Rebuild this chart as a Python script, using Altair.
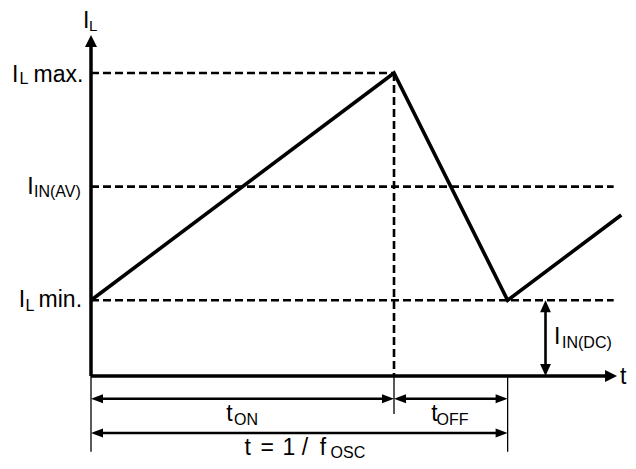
import altair as alt
import pandas as pd

# ---- values (arbitrary units: time t, inductor current I) ----
wave_t = [0, 8, 11, 14]
wave_i = [2, 8, 2, 4.25]

I_MIN, I_AVG, I_MAX = 2, 5, 8
T_ON, T_PERIOD = 8, 11
T_AXIS_END, I_AXIS_END = 13.89, 9
T_DASH_END = 13.8
T_DC = 12
LEVEL_ON = -0.6
LEVEL_PERIOD = -1.505
TICK_SHORT, TICK_LONG = -1.0, -2.0

level_values = [I_MAX, I_AVG, I_MIN]
level_main = ["I", "I", "I"]
level_sub = ["L", "IN(AV)", "L"]
level_tail = ["max.", "", "min."]
axis_y_label = ("I", "L")
axis_x_label = "t"
dc_label = ("I", "IN(DC)")
on_label = ("t", "ON")
off_label = ("t", "OFF")
period_parts = ["t", "=", "1", "/", "f"]
period_sub = "OSC"

# ---- layout ----
FONT = "Liberation Sans"
MAIN, SUB = 23, 16
X_DOMAIN = [-2.1914, 14.178]
Y_DOMAIN = [-2.244, 9.716]
X = alt.X("t:Q", scale=alt.Scale(domain=X_DOMAIN, nice=False, zero=False), axis=None)
Y = alt.Y("i:Q", scale=alt.Scale(domain=Y_DOMAIN, nice=False, zero=False), axis=None)
X2 = alt.X2("t2:Q")
Y2 = alt.Y2("i2:Q")


def segs(rows):
    return pd.DataFrame(rows, columns=["t", "i", "t2", "i2"])


def rules(rows, width, dash=None):
    kw = dict(color="black", strokeWidth=width)
    if dash:
        kw["strokeDash"] = dash
    return alt.Chart(segs(rows)).mark_rule(**kw).encode(x=X, y=Y, x2=X2, y2=Y2)


h = 0.12  # keep shafts under arrowheads
dashed = rules([
    (0, I_MAX, T_ON, I_MAX),
    (0, I_AVG, T_DASH_END, I_AVG),
    (0, I_MIN, T_DASH_END, I_MIN),
    (T_ON, I_MAX, T_ON, 0),
], 2.6, [8, 4])

axes = rules([
    (0, 0, 0, I_AXIS_END - 0.15),
    (0, 0, T_AXIS_END - 0.15, 0),
], 3.5)

ticks = rules([
    (0, 0, 0, TICK_LONG),
    (T_ON, 0, T_ON, TICK_SHORT),
    (T_PERIOD, 0, T_PERIOD, TICK_LONG),
], 1.3)

dims = rules([
    (0 + h, LEVEL_ON, T_ON - h, LEVEL_ON),
    (T_ON + h, LEVEL_ON, T_PERIOD - h, LEVEL_ON),
    (0 + h, LEVEL_PERIOD, T_PERIOD - h, LEVEL_PERIOD),
    (T_DC, 0 + h, T_DC, I_MIN - h),
], 2.6)

wave = alt.Chart(pd.DataFrame({"t": wave_t, "i": wave_i, "o": range(len(wave_t))})).mark_line(
    color="black", strokeWidth=3.6, strokeJoin="miter"
).encode(x=X, y=Y, order="o:Q")

RIGHT = "M0,0L-2,-0.75L-2,0.75Z"
LEFT = "M0,0L2,-0.75L2,0.75Z"
UP = "M0,0L-0.9,2L0.9,2Z"
DOWN = "M0,0L-0.9,-2L0.9,-2Z"
AX_UP = "M0,0L-1,2L1,2Z"
AX_RIGHT = "M0,0L-2,-1L-2,1Z"


def heads(points, shape):
    df = pd.DataFrame(points, columns=["t", "i"])
    return alt.Chart(df).mark_point(
        shape=shape, filled=True, size=144, color="black", opacity=1, strokeWidth=0
    ).encode(x=X, y=Y)


arrows = [
    heads([(0, I_AXIS_END)], AX_UP),
    heads([(T_AXIS_END, 0)], AX_RIGHT),
    heads([(T_ON, LEVEL_ON), (T_PERIOD, LEVEL_ON), (T_PERIOD, LEVEL_PERIOD)], RIGHT),
    heads([(0, LEVEL_ON), (T_ON, LEVEL_ON), (0, LEVEL_PERIOD)], LEFT),
    heads([(T_DC, I_MIN)], UP),
    heads([(T_DC, 0)], DOWN),
]


def txt(label, t, i, dx, dy, size):
    df = pd.DataFrame({"t": [t], "i": [i], "label": [label]})
    return alt.Chart(df).mark_text(
        align="left", baseline="alphabetic", dx=dx, dy=dy, fontSize=size,
        font=FONT, color="black"
    ).encode(x=X, y=Y, text="label:N")


texts = []
# y axis title
texts += [txt(axis_y_label[0], 0, I_AXIS_END, -8, -7, MAIN),
          txt(axis_y_label[1], 0, I_AXIS_END, -2, -3.7, 15)]
# level labels
level_layout = [
    (-79, 9, -71.4, 11.5, -57.4),
    (-63.7, 7.7, -57, 10.7, None),
    (-72.3, 7, -65.4, 10.5, -52.4),
]
for v, m, s, tl, (dxm, dym, dxs, dys, dxt) in zip(level_values, level_main, level_sub, level_tail, level_layout):
    texts.append(txt(m, 0, v, dxm, dym, MAIN))
    texts.append(txt(s, 0, v, dxs, dys, SUB))
    if tl:
        texts.append(txt(tl, 0, v, dxt, dym, MAIN))
# x axis title
texts.append(txt(axis_x_label, T_AXIS_END, 0, 3, 8, MAIN))
# I_IN(DC)
texts += [txt(dc_label[0], T_DC, I_MIN / 2, 8.5, 6.2, MAIN),
          txt(dc_label[1], T_DC, I_MIN / 2, 16.5, 10, SUB)]
# t_ON, t_OFF
texts += [txt(on_label[0], T_ON / 2, LEVEL_ON, -16.2, 22.2, MAIN),
          txt(on_label[1], T_ON / 2, LEVEL_ON, -8.5, 26.5, SUB)]
mid_off = (T_ON + T_PERIOD) / 2
texts += [txt(off_label[0], mid_off, LEVEL_ON, -19.5, 22.2, MAIN),
          txt(off_label[1], mid_off, LEVEL_ON, -14.3, 26.5, SUB)]
# period  (pieces spaced as in the original)
period_dx = [-54.7, -38.9, -16.8, 2.4, 20.4]
for part, dx in zip(period_parts, period_dx):
    texts.append(txt(part, T_PERIOD / 2, LEVEL_PERIOD, dx, 22, MAIN))
texts.append(txt(period_sub, T_PERIOD / 2, LEVEL_PERIOD, 31.2, 24.5, SUB))

chart = alt.layer(dashed, wave, axes, ticks, dims, *arrows, *texts).properties(
    width=620, height=453, autosize=alt.AutoSizeParams(type="none"), padding=0
).configure_view(stroke=None)

chart.save("out.html", embed_options={"renderer": "svg", "actions": False})
